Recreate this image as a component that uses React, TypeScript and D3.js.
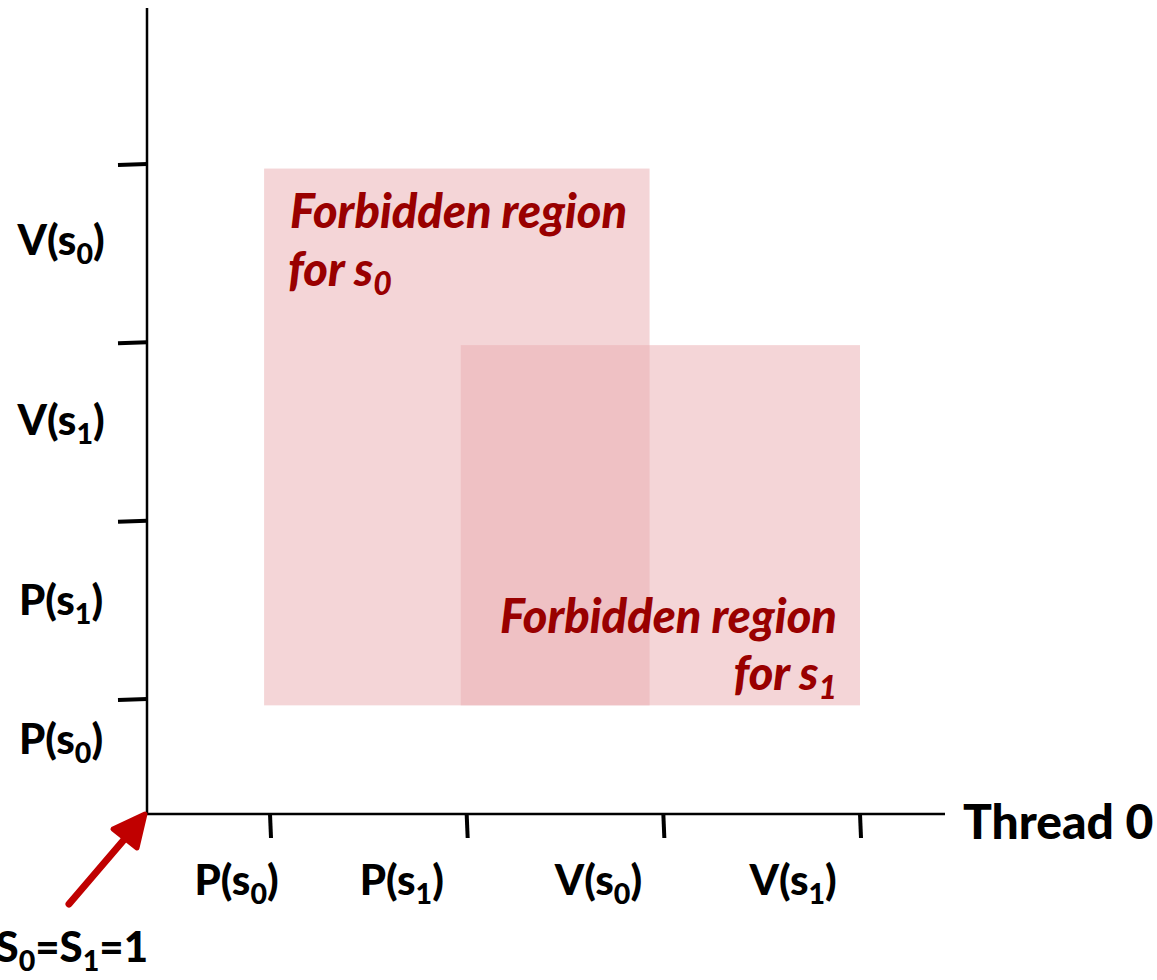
import React from 'react';
import * as d3 from 'd3';

// events along each thread, with the semaphore each one touches
const thread0Ops = ['P', 'P', 'V', 'V'];
const thread0Sems = ['0', '1', '0', '1'];
const thread0Ticks = [1, 2, 3, 4];
const thread0LabelAt = [0.83, 1.67, 2.67, 3.66];

const thread1Ops = ['P', 'P', 'V', 'V'];
const thread1Sems = ['0', '1', '1', '0'];
const thread1Ticks = [1, 2, 3, 4];
const thread1LabelAt = [0.78, 1.56, 2.57, 3.58];

// forbidden regions
const regionSems = ['0', '1'];
const regionX0 = [0.97, 1.97];
const regionX1 = [2.93, 4];
const regionY0 = [0.97, 0.97];
const regionY1 = [3.98, 2.99];

const W = 1157;
const H = 980;
const FONT = 'Lato, "Open Sans", sans-serif';
const TEXT_RED = '#990000';

const x = d3.scaleLinear().domain([1, 4]).range([270, 860]);
const y = d3.scaleLinear().domain([1, 4]).range([700, 165]);

const originX = 147;
const originY = 814;

const Label = ({ op, sub, ...rest }: any) => (
  <text {...rest}>
    {op}(s<tspan fontSize="0.68em" dy="9">{sub}</tspan>
    <tspan dy="-9">)</tspan>
  </text>
);

export default function App() {
  const regions = regionSems.map((s, i) => ({
    sem: s,
    x0: x(regionX0[i]),
    x1: x(regionX1[i]),
    y0: y(regionY0[i]),
    y1: y(regionY1[i]),
  }));

  return (
    <svg width={W} height={H} style={{ position: 'absolute', left: 0, top: 0, background: '#fff' }}>
      {/* forbidden regions */}
      {regions.map((r, i) => (
        <rect
          key={i}
          x={r.x0}
          y={r.y1}
          width={r.x1 - r.x0}
          height={r.y0 - r.y1}
          fill="rgb(234,175,179)"
          fillOpacity={0.52}
        />
      ))}

      {/* region captions */}
      <g fontFamily={FONT} fontWeight={900} fontStyle="italic" fontSize={47} fill={TEXT_RED}>
        <text x={regions[0].x0 + 26} y={228}>Forbidden region</text>
        <text x={regions[0].x0 + 24} y={286}>
          for s<tspan fontSize="0.68em" dy="9">{regions[0].sem}</tspan>
        </text>
        <text x={regions[1].x1 - 23} y={633} textAnchor="end">Forbidden region</text>
        <text x={regions[1].x1 - 23} y={690} textAnchor="end">
          for s<tspan fontSize="0.68em" dy="9">{regions[1].sem}</tspan>
        </text>
      </g>

      {/* axes */}
      <line x1={originX} y1={8} x2={originX} y2={originY + 1} stroke="#000" strokeWidth={2.5} />
      <line x1={originX - 1} y1={originY} x2={945} y2={originY} stroke="#000" strokeWidth={2.5} />

      {thread0Ticks.map((t, i) => (
        <line key={'xt' + i} x1={x(t)} x2={x(t) + 1} y1={originY} y2={originY + 24} stroke="#000" strokeWidth={4} />
      ))}
      {thread1Ticks.map((t, i) => (
        <line key={'yt' + i} x1={originX - 29} x2={originX} y1={y(t)} y2={y(t) - 1} stroke="#000" strokeWidth={4} />
      ))}

      <g fontFamily={FONT} fontWeight={900} fontSize={42} fill="#000">
        {thread0Ops.map((op, i) => (
          <Label key={'xl' + i} op={op} sub={thread0Sems[i]} x={x(thread0LabelAt[i])} y={895} textAnchor="middle" />
        ))}
        {thread1Ops.map((op, i) => (
          <Label key={'yl' + i} op={op} sub={thread1Sems[i]} x={61} y={y(thread1LabelAt[i]) + 15} textAnchor="middle" />
        ))}
        <text x={963} y={839} fontSize={48}>Thread 0</text>
        <text x={148} y={962} textAnchor="end">
          S<tspan fontSize="0.68em" dy="9">0</tspan>
          <tspan dy="-9">=S</tspan>
          <tspan fontSize="0.68em" dy="9">1</tspan>
          <tspan dy="-9">=1</tspan>
        </text>
      </g>

      {/* arrow to the origin */}
      <g stroke="#c00000" strokeWidth={7} strokeLinecap="round" strokeLinejoin="round" fill="#c00000">
        <line x1={69} y1={904} x2={140} y2={821} />
        <path d="M113,829 L145,814 L137,848 Z" strokeWidth={5} />
      </g>
    </svg>
  );
}
